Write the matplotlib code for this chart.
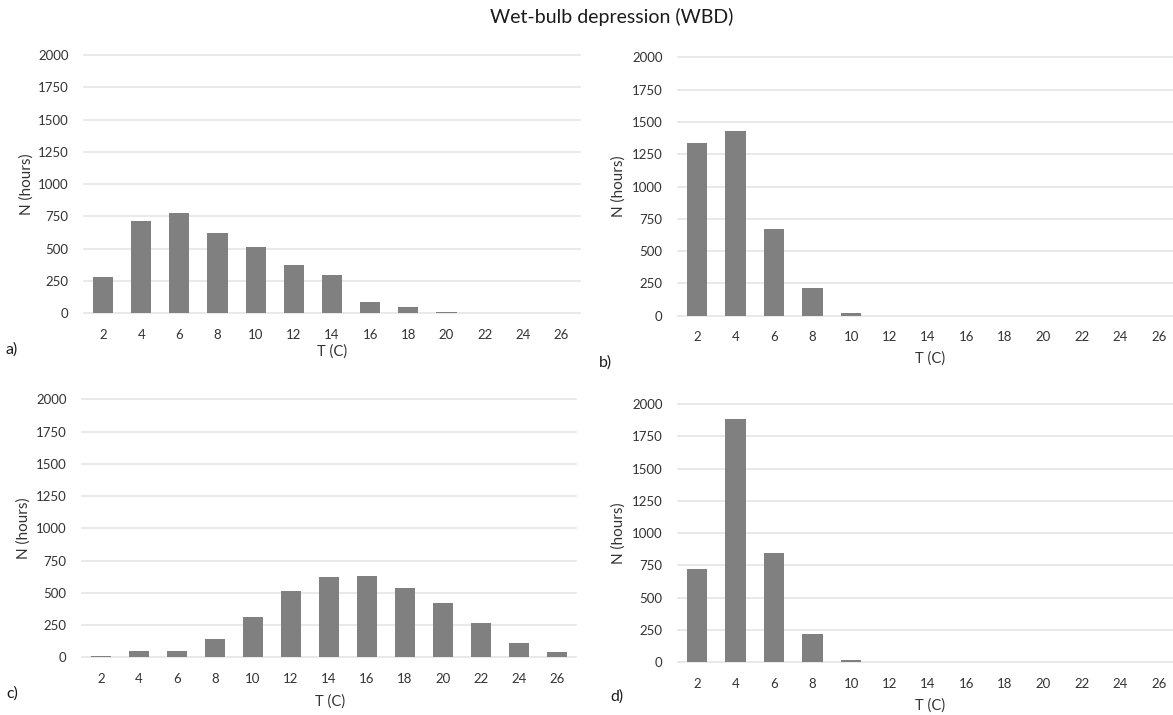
import matplotlib.pyplot as plt

W, H = 1173, 715

temps = ['2', '4', '6', '8', '10', '12', '14', '16', '18', '20', '22', '24', '26']

hours_a = [283, 712, 774, 624, 516, 374, 294, 90, 46, 10, 0, 0, 0]
hours_b = [1334, 1427, 668, 214, 18, 0, 0, 0, 0, 0, 0, 0, 0]
hours_c = [10, 52, 52, 142, 310, 517, 623, 630, 535, 419, 266, 114, 44]
hours_d = [723, 1881, 849, 217, 21, 0, 0, 0, 0, 0, 0, 0, 0]

y_ticks = [0, 250, 500, 750, 1000, 1250, 1500, 1750, 2000]
panel_tags = ['a)', 'b)', 'c)', 'd)']

plt.rcParams['font.family'] = ['Lato', 'DejaVu Sans']

BAR = '#808080'
GRID = '#E2E5EA'
TXT = '#333333'


def px_rect(left, right, y0, y2000):
    """Axes rectangle from pixel edges (y measured from the top)."""
    return [left / W, (H - y0) / H, (right - left) / W, (y0 - y2000) / H]


def draw_panel(ax, values):
    x = range(len(temps))
    ax.bar(x, values, width=0.53, color=BAR, zorder=3)
    ax.set_xlim(-0.5, len(temps) - 0.5)
    ax.set_ylim(0, 2000)
    ax.set_xticks(list(x))
    ax.set_xticklabels(temps)
    ax.set_yticks(y_ticks)
    ax.yaxis.grid(True, color=GRID, linewidth=1.2, zorder=0)
    for s in ax.spines.values():
        s.set_visible(False)
    ax.tick_params(axis='both', length=0, labelsize=9.5, colors=TXT)
    ax.tick_params(axis='x', pad=11)
    ax.tick_params(axis='y', pad=11)
    for gl in ax.get_ygridlines():
        gl.set_clip_on(False)


fig = plt.figure(figsize=(W / 100, H / 100), dpi=100)

rects = [
    px_rect(84, 580, 313.3, 55.0),
    px_rect(678, 1178, 315.7, 57.3),
    px_rect(82, 576, 657.3, 399.3),
    px_rect(678, 1178, 662.3, 404.0),
]
data = [hours_a, hours_b, hours_c, hours_d]

# x-label centre, label y, panel tag position, y-label x
label_pos = [
    (332, 352, 12, 350, 27),
    (930, 359, 605, 363, 619),
    (330, 702, 12, 694, 24),
    (930, 706, 617, 697, 619),
]

for rect, vals, tag, (xl, yl, tx, ty, yx) in zip(rects, data, panel_tags, label_pos):
    ax = fig.add_axes(rect)
    draw_panel(ax, vals)
    fig.text(xl / W, 1 - yl / H, 'T (C)', ha='center', va='center',
             fontsize=10.5, color=TXT)
    fig.text(tx / W, 1 - ty / H, tag, ha='center', va='center',
             fontsize=11.5, color='#1A1A1A')
    fig.text(yx / W, rect[1] + rect[3] / 2, 'N (hours)', rotation=90,
             ha='center', va='center', fontsize=11, color=TXT)

fig.text(612 / W, 1 - 17 / H, 'Wet-bulb depression (WBD)', ha='center',
         va='center', fontsize=14, color='#1A1A1A')

fig.savefig('out.png', dpi=100, facecolor='white')
